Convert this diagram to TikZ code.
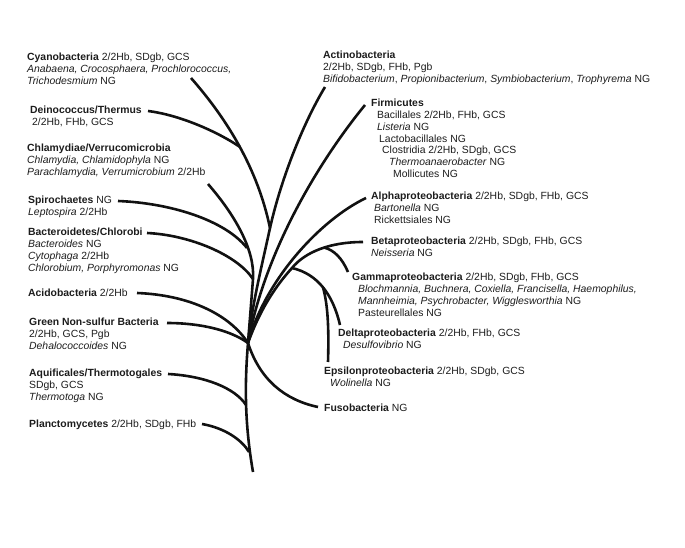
\documentclass[tikz,border=0pt]{standalone}
\usepackage{fontspec}
\setmainfont{Liberation Sans}
\definecolor{treeink}{HTML}{111111}
\definecolor{labelink}{HTML}{1C1C1C}
\newcommand{\taxfont}{\fontsize{10.4}{11.8}\selectfont}
\newcommand{\phylum}[1]{\textbf{#1}}
\newcommand{\genus}[1]{\textit{#1}}

\begin{document}
\begin{tikzpicture}[
  x=1pt,
  y=-1pt,
  every node/.style={font=\taxfont, labelink, inner sep=0pt},
  taxon/.style={anchor=north west, align=left},
  branch/.style={treeink, line width=2.6pt}
]
  % ---- frame: one unit is one pixel of the 685 x 548 figure
  \useasboundingbox (0,0) rectangle (685,548);

  % ---- left column ------------------------------------------------------
  \node[taxon] (cyano) at (27,52.9) {\phylum{Cyanobacteria} 2/2Hb, SDgb, GCS\\
    \genus{Anabaena, Crocosphaera, Prochlorococcus,}\\
    \genus{Trichodesmium} NG};
  \node[taxon] (deino) at (30,105.9) {\phylum{Deinococcus/Thermus}\\
    \hspace*{2pt}2/2Hb, FHb, GCS};
  \node[taxon] (chlam) at (27,143.9) {\phylum{Chlamydiae/Verrucomicrobia}\\
    \genus{Chlamydia, Chlamidophyla} NG\\
    \genus{Parachlamydia, Verrumicrobium} 2/2Hb};
  \node[taxon] (spiro) at (28,195.9) {\phylum{Spirochaetes} NG\\
    \genus{Leptospira} 2/2Hb};
  \node[taxon] (bacter) at (28,227.9) {\phylum{Bacteroidetes/Chlorobi}\\
    \genus{Bacteroides} NG\\
    \genus{Cytophaga} 2/2Hb\\
    \genus{Chlorobium, Porphyromonas} NG};
  \node[taxon] (acido) at (28,288.9) {\phylum{Acidobacteria} 2/2Hb};
  \node[taxon] (greens) at (29,317.9) {\phylum{Green Non-sulfur Bacteria}\\
    2/2Hb, GCS, Pgb\\
    \genus{Dehalococcoides} NG};
  \node[taxon] (aquif) at (29,368.9) {\phylum{Aquificales/Thermotogales}\\
    SDgb, GCS\\
    \genus{Thermotoga} NG};
  \node[taxon] (planc) at (29,419.4) {\phylum{Planctomycetes} 2/2Hb, SDgb, FHb};

  % ---- right column -----------------------------------------------------
  \node[taxon] (actino) at (323,50.9) {\phylum{Actinobacteria}\\
    2/2Hb, SDgb, FHb, Pgb\\
    \genus{Bifidobacterium}, \genus{Propionibacterium}, \genus{Symbiobacterium}, \genus{Trophyrema} NG};
  \node[taxon] (firm) at (371,98.9) {\phylum{Firmicutes}\\
    \hspace*{6pt}Bacillales 2/2Hb, FHb, GCS\\
    \hspace*{6pt}\genus{Listeria} NG\\
    \hspace*{8pt}Lactobacillales NG\\
    \hspace*{11pt}Clostridia 2/2Hb, SDgb, GCS\\
    \hspace*{18pt}\genus{Thermoanaerobacter} NG\\
    \hspace*{22pt}Mollicutes NG};
  \node[taxon] (alpha) at (371,191.9) {\phylum{Alphaproteobacteria} 2/2Hb, SDgb, FHb, GCS\\
    \hspace*{3pt}\genus{Bartonella} NG\\
    \hspace*{3pt}Rickettsiales NG};
  \node[taxon] (beta) at (371,236.9) {\phylum{Betaproteobacteria} 2/2Hb, SDgb, FHb, GCS\\
    \genus{Neisseria} NG};
  \node[taxon] (gamma) at (352,272.9) {\phylum{Gammaproteobacteria} 2/2Hb, SDgb, FHb, GCS\\
    \hspace*{6pt}\genus{Blochmannia, Buchnera, Coxiella, Francisella, Haemophilus,}\\
    \hspace*{6pt}\genus{Mannheimia, Psychrobacter, Wigglesworthia} NG\\
    \hspace*{6pt}Pasteurellales NG};
  \node[taxon] (delta) at (338,328.9) {\phylum{Deltaproteobacteria} 2/2Hb, FHb, GCS\\
    \hspace*{5pt}\genus{Desulfovibrio} NG};
  \node[taxon] (epsil) at (324,366.9) {\phylum{Epsilonproteobacteria} 2/2Hb, SDgb, GCS\\
    \hspace*{6pt}\genus{Wolinella} NG};
  \node[taxon] (fuso) at (324,403.9) {\phylum{Fusobacteria} NG};

  % ---- branch tips, next to their labels --------------------------------
  \coordinate (tCyano)  at (191,78);
  \coordinate (tDeino)  at (148,111);
  \coordinate (tChlam)  at (208,184);
  \coordinate (tSpiro)  at (118,201);
  \coordinate (tBacter) at (147,233);
  \coordinate (tAcido)  at (137,293);
  \coordinate (tGreens) at (167,323);
  \coordinate (tAquif)  at (168,374);
  \coordinate (tPlanc)  at (202,424);
  \coordinate (tActino) at (325,87);
  \coordinate (tFirm)   at (365,105);
  \coordinate (tAlpha)  at (366,198);
  \coordinate (tBeta)   at (363,242);
  \coordinate (tGamma)  at (348,272);
  \coordinate (tDelta)  at (340,325);
  \coordinate (tEpsil)  at (328,362);
  \coordinate (tFuso)   at (318,407);

  % ---- forks ------------------------------------------------------------
  \coordinate (root)  at (253,472);
  \coordinate (hub)   at (248,343);
  \coordinate (jCD)   at (240,147);
  \coordinate (jCA)   at (270,228);
  \coordinate (jSC)   at (247,248);
  \coordinate (jBa)   at (253,279);
  \coordinate (jAq)   at (246,405);
  \coordinate (jPl)   at (249,452);
  \coordinate (jPro)  at (292,268);
  \coordinate (jGa)   at (324,247.5);
  \coordinate (jDE)   at (323,287.5);

  % ---- trunk and left branches ------------------------------------------
  \draw[branch] (hub) .. controls (245,380) and (244,420) .. (root);
  \draw[branch] (tCyano) .. controls (228,120) and (258,170) .. (jCA);
  \draw[branch] (tDeino) .. controls (180,115) and (218,132) .. (jCD);
  \draw[branch] (jCA) .. controls (262,265) and (252,305) .. (hub);
  \draw[branch] (tChlam) .. controls (235,215) and (255,250) .. (jBa)
    .. controls (251,305) .. (hub);
  \draw[branch] (tSpiro) .. controls (170,203) and (225,220) .. (jSC);
  \draw[branch] (tBacter) .. controls (190,235) and (237,255) .. (jBa);
  \draw[branch] (tAcido) .. controls (190,295) and (230,315) .. (hub);
  \draw[branch] (tGreens) .. controls (200,323) and (230,330) .. (hub);
  \draw[branch] (tAquif) .. controls (205,376) and (235,388) .. (jAq);
  \draw[branch] (tPlanc) .. controls (225,428) and (242,440) .. (jPl);

  % ---- right branches ---------------------------------------------------
  \draw[branch] (tActino) .. controls (305,120) and (282,175) .. (jCA);
  \draw[branch] (tFirm) .. controls (320,160) and (265,250) .. (hub);
  \draw[branch] (tAlpha) .. controls (320,220) and (265,280) .. (hub);
  \draw[branch] (tBeta) .. controls (330,242) and (305,252) .. (jPro)
    .. controls (272,290) and (258,315) .. (hub);
  \draw[branch] (tGamma) .. controls (342,258) and (334,250) .. (jGa);
  \draw[branch] (tDelta) .. controls (333,295) and (318,274) .. (jPro);
  \draw[branch] (tEpsil) .. controls (329,330) and (328,305) .. (jDE);
  \draw[branch] (hub) .. controls (260,380) and (285,400) .. (tFuso);
\end{tikzpicture}
\end{document}
